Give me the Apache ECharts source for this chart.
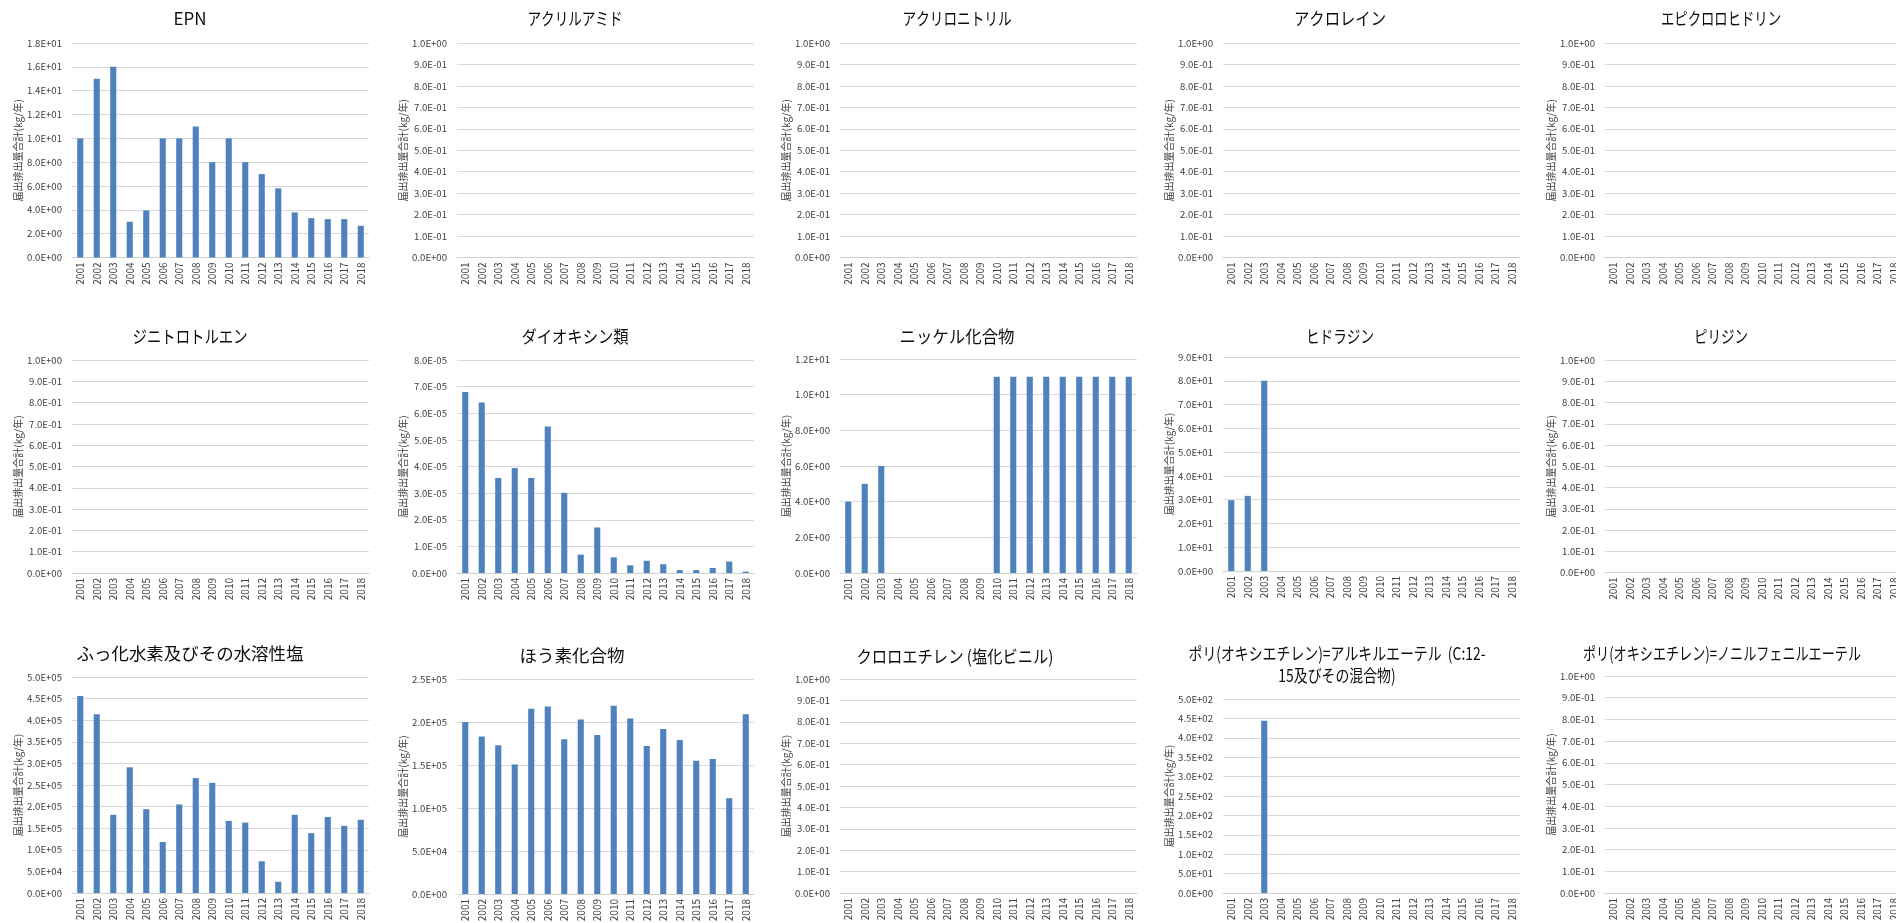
<!DOCTYPE html>
<html>
<head>
<meta charset="utf-8">
<script src="https://cdn.jsdelivr.net/npm/echarts@6/dist/echarts.min.js"></script>
<style>
html,body{margin:0;padding:0;background:#fff;}
#chart{width:1896px;height:923px;}
</style>
</head>
<body>
<div id="chart"></div>
<script>
// ---- data ----
const years = ['2001','2002','2003','2004','2005','2006','2007','2008','2009','2010','2011','2012','2013','2014','2015','2016','2017','2018'];

const titles = [
  'EPN', 'アクリルアミド', 'アクリロニトリル', 'アクロレイン', 'エピクロロヒドリン',
  'ジニトロトルエン', 'ダイオキシン類', 'ニッケル化合物', 'ヒドラジン', 'ピリジン',
  'ふっ化水素及びその水溶性塩', 'ほう素化合物', 'クロロエチレン (塩化ビニル)',
  'ポリ(オキシエチレン)=アルキルエーテル  (C:12-\n15及びその混合物)', 'ポリ(オキシエチレン)=ノニルフェニルエーテル'
];

const epn       = [10, 15, 16, 3, 3.95, 10, 10, 11, 8, 10, 8, 7, 5.8, 3.78, 3.3, 3.22, 3.22, 2.66];
const dioxin    = [6.8e-5, 6.4e-5, 3.57e-5, 3.94e-5, 3.57e-5, 5.5e-5, 3.01e-5, 0.69e-5, 1.71e-5, 0.59e-5, 0.29e-5, 0.46e-5, 0.33e-5, 0.11e-5, 0.11e-5, 0.19e-5, 0.43e-5, 0.05e-5];
const nickel    = [4, 5, 6, 0, 0, 0, 0, 0, 0, 11, 11, 11, 11, 11, 11, 11, 11, 11];
const hydrazine = [29.8, 31.6, 80];
const fluoride  = [4.56e5, 4.14e5, 1.81e5, 2.91e5, 1.94e5, 1.18e5, 2.05e5, 2.66e5, 2.55e5, 1.67e5, 1.63e5, 0.735e5, 0.26e5, 1.81e5, 1.385e5, 1.76e5, 1.556e5, 1.695e5];
const boron     = [2.0e5, 1.83e5, 1.73e5, 1.506e5, 2.155e5, 2.18e5, 1.80e5, 2.03e5, 1.85e5, 2.19e5, 2.04e5, 1.72e5, 1.92e5, 1.79e5, 1.55e5, 1.57e5, 1.114e5, 2.09e5];
const polyAlkyl = [0, 0, 444];
const none      = [];

const seriesData = [epn, none, none, none, none, none, dioxin, nickel, hydrazine, none, fluoride, boron, none, polyAlkyl, none];
const axisMax  = [18, 1, 1, 1, 1, 1, 8e-5, 12, 90, 1, 5e5, 2.5e5, 1, 500, 1];
const axisStep = [2, 0.1, 0.1, 0.1, 0.1, 0.1, 1e-5, 2, 10, 0.1, 5e4, 5e4, 0.1, 50, 0.1];
const yName = '届出排出量合計(kg/年)';

// ---- layout ----
const colLeft = [72, 457, 840, 1223, 1605];
const plotW = 297;
const box = [ // [top, bottom] per chart
  [43,257.5],[43,257.5],[43,257.5],[43,257.5],[43,257.5],
  [360,573],[360,573],[359,573],[357,571],[360,572.5],
  [677,893],[679,894],[679,893],[699,893],[676,893]
];
const titleY = [18,18,18,18,18, 336,336,336,336,336, 653,655,656,664,653];
const titleX = [190,575,957,1340,1721, 190,575,957,1340,1721, 190,572,955,1337,1722];
const titleW = [33, 95, 109, 92, 120, 115, 107, 115, 68, 54, 227, 105, 197, 297, 278];

function sci(v){
  if (v === 0) return '0.0E+00';
  const s = Number(v).toExponential(1);
  const parts = s.split('e');
  const sign = parts[1][0];
  const d = parts[1].slice(1).padStart(2,'0');
  return parts[0] + 'E' + sign + d;
}

const FONT = '"Noto Sans CJK JP", "Noto Sans", sans-serif';
const TFS = 17.5;
const measureCtx = document.createElement('canvas').getContext('2d');
measureCtx.font = TFS + 'px ' + FONT;
function lineWidth(t){
  return Math.max.apply(null, t.split('\n').slice(0,1).map(l => measureCtx.measureText(l).width));
}

const grids = [], xAxes = [], yAxes = [], series = [], graphics = [];
const LABEL = '#404040';

for (let i = 0; i < 15; i++) {
  const c = i % 5;
  const [t, b] = box[i];
  grids.push({left: colLeft[c], top: t, width: plotW, height: b - t, outerBoundsMode: 'none', containLabel: false});
  xAxes.push({
    type: 'category', gridIndex: i, data: years,
    axisTick: {show: false},
    axisLine: {lineStyle: {color: '#d0d0d0', width: 1}},
    axisLabel: {rotate: 90, interval: 0, fontSize: 10, color: LABEL, fontFamily: FONT, margin: 5}
  });
  yAxes.push({
    type: 'value', gridIndex: i, min: 0, max: axisMax[i], interval: axisStep[i],
    name: yName, nameLocation: 'middle', nameGap: 49,
    nameTextStyle: {fontSize: 10, color: LABEL, fontFamily: FONT},
    axisLine: {show: false}, axisTick: {show: false},
    splitLine: {lineStyle: {color: '#d9d9d9', width: 1}},
    axisLabel: {formatter: sci, fontSize: 9.6, color: LABEL, fontFamily: FONT, margin: 10}
  });
  series.push({
    type: 'bar', xAxisIndex: i, yAxisIndex: i, data: seriesData[i],
    barWidth: '37%',
    itemStyle: {color: '#4f81bd', borderWidth: 0},
    silent: true, animation: false
  });
  const sx = titleW[i] / lineWidth(titles[i]);
  graphics.push({
    type: 'text', x: titleX[i], y: titleY[i], scaleX: sx, silent: true,
    style: {
      text: titles[i], fontSize: TFS, fontFamily: FONT, fill: '#0d0d0d',
      align: 'center', verticalAlign: 'middle', textAlign: 'center', textVerticalAlign: 'middle',
      lineHeight: 22
    }
  });
}

const chart = echarts.init(document.getElementById('chart'), null, {renderer: 'canvas'});
chart.setOption({
  animation: false,
  backgroundColor: '#ffffff',
  grid: grids,
  xAxis: xAxes,
  yAxis: yAxes,
  series: series,
  graphic: graphics
});
</script>
</body>
</html>
